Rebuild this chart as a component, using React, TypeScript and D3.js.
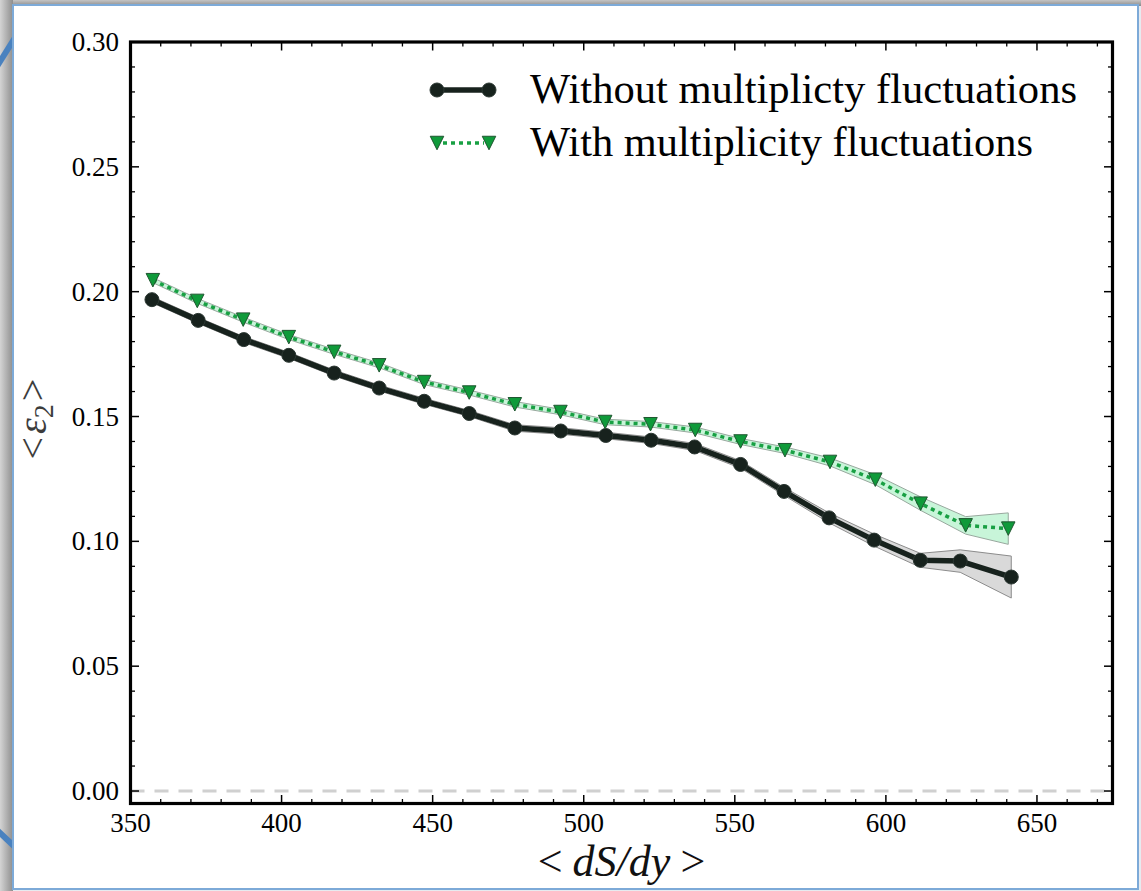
import React from "react";
import * as d3 from "d3";

const xBlack = [357.1, 372.4, 387.5, 402.4, 417.4, 432.3, 447.2, 462.1, 477.2, 492.4, 507.3, 522.3, 536.7, 551.9, 566.3, 581.2, 596.1, 611.4, 624.6, 641.5];
const yBlack = [0.1968, 0.1885, 0.1808, 0.1745, 0.1674, 0.1614, 0.1561, 0.1512, 0.1454, 0.1442, 0.1424, 0.1405, 0.1378, 0.1308, 0.12, 0.1094, 0.1005, 0.0924, 0.0921, 0.0857];
const errBlack = [0.0012, 0.0012, 0.0012, 0.0012, 0.0012, 0.0012, 0.0012, 0.0012, 0.0013, 0.0013, 0.0013, 0.0013, 0.0014, 0.0015, 0.0016, 0.002, 0.0024, 0.0028, 0.0045, 0.0084];

const xGreen = [357.4, 372.1, 387.3, 402.4, 417.4, 432.3, 447.2, 462.1, 477.2, 492.3, 507.1, 522.1, 536.9, 551.9, 566.6, 581.5, 596.5, 611.5, 626.4, 640.5];
const yGreen = [0.2046, 0.1963, 0.1888, 0.1818, 0.1759, 0.1705, 0.1638, 0.1596, 0.1549, 0.1518, 0.1478, 0.1469, 0.1446, 0.14, 0.1365, 0.1318, 0.1247, 0.1151, 0.1064, 0.1051];
const errGreen = [0.001, 0.001, 0.001, 0.001, 0.001, 0.001, 0.001, 0.001, 0.0011, 0.0011, 0.0011, 0.0011, 0.0012, 0.0012, 0.0013, 0.0016, 0.002, 0.0027, 0.0035, 0.0063];

const xTicks = [350, 400, 450, 500, 550, 600, 650];
const yTicks = [0.0, 0.05, 0.1, 0.15, 0.2, 0.25, 0.3];
const legendLabels = ["Without multiplicty fluctuations", "With multiplicity fluctuations"];

const W = 1141;
const H = 891;
const L = 130.5, R = 1112.5, T = 42, B = 803.5;

export default function App() {
  const x = d3.scaleLinear().domain([350, 675]).range([L, R]);
  const y = d3.scaleLinear().domain([-0.005, 0.3]).range([B, T]);

  const mk = (xs: number[], ys: number[], es: number[]) =>
    xs.map((v, i) => ({ x: v, y: ys[i], e: es[i] }));
  const black = mk(xBlack, yBlack, errBlack);
  const green = mk(xGreen, yGreen, errGreen);

  const line = d3.line<any>().x((d) => x(d.x)).y((d) => y(d.y));
  const area = d3.area<any>().x((d) => x(d.x)).y0((d) => y(d.y - d.e)).y1((d) => y(d.y + d.e));

  const xMinor = d3.range(350, 676, 10).filter((v) => v % 50 !== 0);
  const yMinor = d3.range(0, 31, 1).map((v) => v / 100).filter((v, i) => i % 5 !== 0);

  const font = "'Liberation Serif', 'Times New Roman', serif";
  const tri = (cx: number, cy: number, s: number) =>
    `M${cx - s / 2},${cy - s / 2}L${cx + s / 2},${cy - s / 2}L${cx},${cy + s / 2}Z`;

  const majLen = 8.5, minLen = 4.5;

  return (
    <svg width={W} height={H} style={{ position: "absolute", left: 0, top: 0, display: "block" }} fontFamily={font}>
      <defs>
        <linearGradient id="lg" x1="0" x2="1" y1="0" y2="0">
          <stop offset="0" stopColor="#d4d4d4" />
          <stop offset="1" stopColor="#8e8e8e" />
        </linearGradient>
        <linearGradient id="tg" x1="0" x2="0" y1="0" y2="1">
          <stop offset="0" stopColor="#c4c4c4" />
          <stop offset="1" stopColor="#8a8a8a" />
        </linearGradient>
      </defs>
      <rect x={0} y={0} width={W} height={H} fill="#e6ebf0" />
      <rect x={0} y={0} width={W} height={6} fill="url(#tg)" />
      <rect x={0} y={0} width={13} height={H} fill="url(#lg)" />
      <line x1={-4} y1={68} x2={16} y2={36} stroke="#4a82bf" strokeWidth={6} />
      <line x1={-4} y1={829} x2={16} y2={848} stroke="#4a82bf" strokeWidth={6} />
      <rect x={13} y={5} width={1125} height={884} fill="#ffffff" stroke="#7daad8" strokeWidth={2} />

      {/* zero line */}
      <line x1={L} x2={R} y1={y(0)} y2={y(0)} stroke="#d0d0d0" strokeWidth={3} strokeDasharray="14,10" />

      {/* bands */}
      <path d={area(black) || ""} fill="#d9d9d9" stroke="#8c8c8c" strokeWidth={1} />
      <path d={area(green) || ""} fill="#c8f5d9" stroke="#98a89e" strokeWidth={1} />

      {/* lines */}
      <path d={line(black) || ""} fill="none" stroke="#17221d" strokeWidth={5.5} strokeLinejoin="round" />
      <path d={line(green) || ""} fill="none" stroke="#18a043" strokeWidth={3.5} strokeDasharray="4,4" />

      {black.map((d, i) => (
        <circle key={"b" + i} cx={x(d.x)} cy={y(d.y)} r={7} fill="#17221d" stroke="#2b3732" strokeWidth={1} />
      ))}
      {green.map((d, i) => (
        <path key={"g" + i} d={tri(x(d.x), y(d.y), 13.5)} fill="#0f9a3a" stroke="#1f5630" strokeWidth={1} />
      ))}

      {/* axes frame */}
      <rect x={L} y={T} width={R - L} height={B - T} fill="none" stroke="#000" strokeWidth={3.2} />

      {/* x ticks */}
      {xTicks.map((v) => (
        <g key={"xt" + v}>
          <line x1={x(v)} x2={x(v)} y1={B} y2={B - majLen} stroke="#000" strokeWidth={1.5} />
          <line x1={x(v)} x2={x(v)} y1={T} y2={T + majLen} stroke="#000" strokeWidth={1.5} />
          <text x={x(v)} y={832} fontSize={27} textAnchor="middle" fill="#000">{v}</text>
        </g>
      ))}
      {xMinor.map((v) => (
        <g key={"xm" + v}>
          <line x1={x(v)} x2={x(v)} y1={B} y2={B - minLen} stroke="#000" strokeWidth={1.3} />
          <line x1={x(v)} x2={x(v)} y1={T} y2={T + minLen} stroke="#000" strokeWidth={1.3} />
        </g>
      ))}

      {/* y ticks */}
      {yTicks.map((v) => (
        <g key={"yt" + v}>
          <line x1={L} x2={L + majLen} y1={y(v)} y2={y(v)} stroke="#000" strokeWidth={1.5} />
          <line x1={R} x2={R - majLen} y1={y(v)} y2={y(v)} stroke="#000" strokeWidth={1.5} />
          <text x={119} y={y(v) + 9} fontSize={27} textAnchor="end" fill="#000">{v.toFixed(2)}</text>
        </g>
      ))}
      {yMinor.map((v) => (
        <g key={"ym" + v}>
          <line x1={L} x2={L + minLen} y1={y(v)} y2={y(v)} stroke="#000" strokeWidth={1.3} />
          <line x1={R} x2={R - minLen} y1={y(v)} y2={y(v)} stroke="#000" strokeWidth={1.3} />
        </g>
      ))}

      {/* axis labels */}
      <text x={(L + R) / 2} y={876} fontSize={44} textAnchor="middle" fill="#111">
        <tspan>{"<"}</tspan>
        <tspan fontStyle="italic" dx={10}>dS/dy</tspan>
        <tspan dx={10}>{">"}</tspan>
      </text>
      <text transform={`translate(46,419) rotate(-90)`} fontSize={40} textAnchor="middle" fill="#3c3c3c">
        <tspan>{"<"}</tspan>
        <tspan fontStyle="italic" dx={3}>ε</tspan>
        <tspan fontSize={28} dy={7}>2</tspan>
        <tspan dy={-7} dx={3}>{">"}</tspan>
      </text>

      {/* legend */}
      <g>
        <line x1={437} x2={489} y1={90} y2={90} stroke="#17221d" strokeWidth={5.5} />
        <circle cx={437} cy={90} r={7} fill="#17221d" stroke="#2b3732" strokeWidth={1} />
        <circle cx={489} cy={90} r={7} fill="#17221d" stroke="#2b3732" strokeWidth={1} />
        <text x={530} y={103} fontSize={42.5} fill="#000" textLength={547} lengthAdjust="spacingAndGlyphs">{legendLabels[0]}</text>

        <line x1={443} x2={484} y1={143} y2={143} stroke="#18a043" strokeWidth={3.5} strokeDasharray="4,4" />
        <path d={tri(437, 143, 13.5)} fill="#0f9a3a" stroke="#1f5630" strokeWidth={1} />
        <path d={tri(489, 143, 13.5)} fill="#0f9a3a" stroke="#1f5630" strokeWidth={1} />
        <text x={530} y={156} fontSize={42.5} fill="#000" textLength={503} lengthAdjust="spacingAndGlyphs">{legendLabels[1]}</text>
      </g>
    </svg>
  );
}
